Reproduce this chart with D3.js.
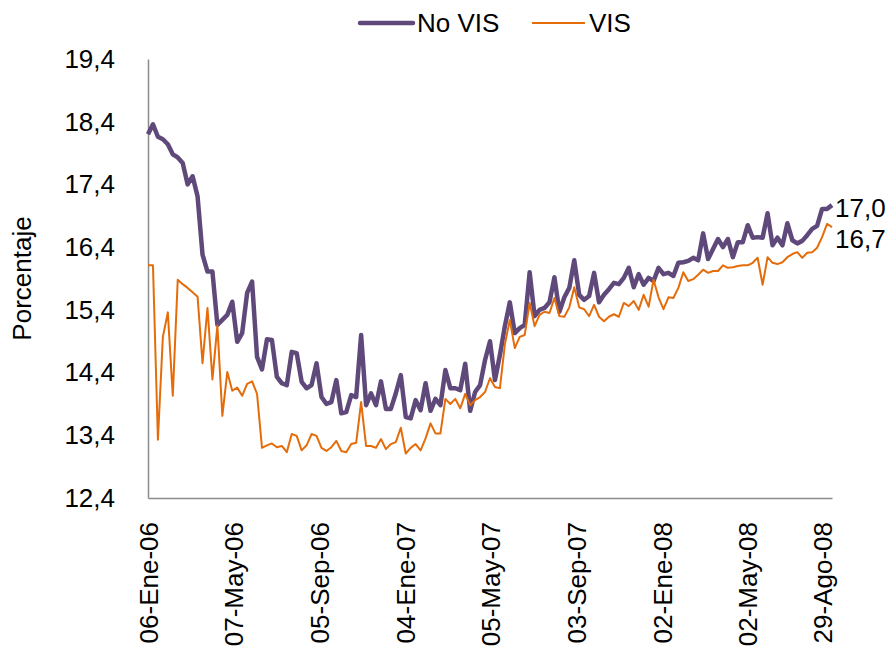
<!DOCTYPE html>
<html>
<head>
<meta charset="utf-8">
<script src="https://cdn.jsdelivr.net/npm/d3@7"></script>
<style>
  body { margin: 0; background: #fff; }
  text { font-family: "Liberation Sans", Arial, sans-serif; fill: #000; }
</style>
</head>
<body>
<div id="chart"></div>
<script>
// weekly series, first week 06-Ene-06, last 29-Ago-08
var startDate = new Date(2006, 0, 6);
var nWeeks = 139;

var noVis = [
  18.20, 18.36, 18.16, 18.12, 18.04, 17.88, 17.83, 17.74, 17.40, 17.53,
  17.21, 16.28, 16.01, 16.01, 15.16, 15.24, 15.32, 15.53, 14.89, 15.03,
  15.67, 15.85, 14.65, 14.45, 14.93, 14.92, 14.33, 14.23, 14.20, 14.73,
  14.71, 14.25, 14.15, 14.20, 14.55, 14.01, 13.90, 13.93, 14.28, 13.75,
  13.77, 14.04, 14.01, 15.00, 13.88, 14.07, 13.88, 14.26, 13.82, 13.82,
  14.07, 14.36, 13.69, 13.67, 13.96, 13.80, 14.23, 13.79, 13.98, 13.88,
  14.44, 14.15, 14.15, 14.12, 14.54, 13.79, 14.09, 14.20, 14.60, 14.90,
  14.28, 14.68, 15.14, 15.52, 15.03, 15.11, 15.16, 16.00, 15.30, 15.40,
  15.43, 15.52, 15.92, 15.37, 15.60, 15.75, 16.19, 15.64, 15.56, 15.62,
  15.99, 15.52, 15.64, 15.73, 15.83, 15.81, 15.91, 16.07, 15.76, 15.97,
  15.80, 15.91, 15.86, 16.07, 15.97, 15.99, 15.94, 16.15, 16.16, 16.18,
  16.23, 16.19, 16.62, 16.21, 16.37, 16.53, 16.40, 16.53, 16.24, 16.48,
  16.48, 16.75, 16.55, 16.56, 16.55, 16.94, 16.43, 16.55, 16.43, 16.78,
  16.51, 16.46, 16.50, 16.59, 16.69, 16.74, 17.01, 17.01, 17.07
];

var vis = [
  16.11, 16.11, 13.33, 14.97, 15.36, 14.03, 15.88, 15.81, 15.75, 15.68,
  15.61, 14.55, 15.43, 14.29, 15.15, 13.71, 14.41, 14.11, 14.16, 14.03,
  14.22, 14.26, 14.06, 13.20, 13.24, 13.27, 13.21, 13.23, 13.13, 13.42,
  13.39, 13.16, 13.24, 13.42, 13.39, 13.20, 13.15, 13.21, 13.31, 13.15,
  13.13, 13.26, 13.28, 13.93, 13.23, 13.23, 13.20, 13.34, 13.18, 13.26,
  13.29, 13.52, 13.11, 13.20, 13.26, 13.16, 13.35, 13.59, 13.43, 13.43,
  13.98, 13.90, 13.98, 13.83, 14.06, 13.88, 13.96, 14.01, 14.09, 14.31,
  14.17, 14.15, 14.85, 15.24, 14.79, 14.97, 15.00, 15.51, 15.14, 15.32,
  15.37, 15.35, 15.59, 15.30, 15.29, 15.44, 15.76, 15.44, 15.41, 15.30,
  15.48, 15.29, 15.22, 15.29, 15.33, 15.29, 15.51, 15.46, 15.54, 15.40,
  15.64, 15.45, 15.88, 15.60, 15.41, 15.60, 15.59, 15.75, 16.00, 15.86,
  15.89, 15.96, 16.04, 15.99, 16.02, 16.02, 16.11, 16.07, 16.08, 16.10,
  16.11, 16.11, 16.15, 16.23, 15.80, 16.24, 16.15, 16.13, 16.16, 16.24,
  16.29, 16.32, 16.23, 16.31, 16.32, 16.39, 16.56, 16.77, 16.72
];

var tickDates = [
  new Date(2006, 0, 6), new Date(2006, 4, 7), new Date(2006, 8, 5),
  new Date(2007, 0, 4), new Date(2007, 4, 5), new Date(2007, 8, 3),
  new Date(2008, 0, 2), new Date(2008, 4, 2), new Date(2008, 7, 29)
];
var tickLabels = [
  "06-Ene-06", "07-May-06", "05-Sep-06", "04-Ene-07", "05-May-07",
  "03-Sep-07", "02-Ene-08", "02-May-08", "29-Ago-08"
];
var yTicks = [12.4, 13.4, 14.4, 15.4, 16.4, 17.4, 18.4, 19.4];

var seriesNames = ["No VIS", "VIS"];
var endLabels = ["17,0", "16,7"];

var width = 887, height = 650;
var margin = { top: 59, right: 55, bottom: 152, left: 148 };

var dates = d3.range(nWeeks).map(function(i) { return d3.timeWeek.offset(startDate, i); });

var svg = d3.select('#chart').append('svg')
  .attr('width', width)
  .attr('height', height);

var x = d3.scaleTime()
  .domain([dates[0], dates[dates.length - 1]])
  .range([margin.left, width - margin.right]);

var y = d3.scaleLinear()
  .domain([12.4, 19.4])
  .range([height - margin.bottom, margin.top]);

var fmt = function(v) { return d3.format('.1f')(v).replace('.', ','); };

// y axis
var yAxis = svg.append('g')
  .attr('transform', 'translate(' + margin.left + ',0)')
  .call(d3.axisLeft(y).tickValues(yTicks).tickSize(0).tickPadding(33).tickFormat(fmt));
yAxis.select('.domain').attr('stroke', '#8c8c8c').attr('stroke-width', 1.5);
yAxis.selectAll('text')
  .style('font-size', '26px')
  .style('font-family', '"Liberation Sans", Arial, sans-serif')
  .attr('fill', '#000');

// x axis
var xAxis = svg.append('g')
  .attr('transform', 'translate(0,' + y(12.4) + ')')
  .call(d3.axisBottom(x).tickValues(tickDates).tickSize(0).tickFormat(function(d, i) { return tickLabels[i]; }));
xAxis.select('.domain').attr('stroke', '#8c8c8c').attr('stroke-width', 1.5);
xAxis.selectAll('text')
  .style('font-size', '26px')
  .style('font-family', '"Liberation Sans", Arial, sans-serif')
  .attr('fill', '#000')
  .attr('text-anchor', 'end')
  .attr('y', 0)
  .attr('dy', '0.35em')
  .attr('transform', function(d, i) {
    var shift = (i === tickDates.length - 1) ? -10 : 0;
    return 'translate(' + shift + ',24) rotate(-90)';
  });

// y title
svg.append('text')
  .attr('transform', 'translate(31,' + (y(15.9)) + ') rotate(-90)')
  .attr('text-anchor', 'middle')
  .style('font-size', '26px')
  .text('Porcentaje');

var colors = ['#5f497a', '#e46c0a'];
var widths = [4.5, 2];
var allSeries = [noVis, vis];

var line = d3.line()
  .x(function(d, i) { return x(dates[i]); })
  .y(function(d) { return y(d); });

allSeries.forEach(function(s, k) {
  svg.append('path')
    .datum(s)
    .attr('fill', 'none')
    .attr('stroke', colors[k])
    .attr('stroke-width', widths[k])
    .attr('stroke-linejoin', 'round')
    .attr('d', line);
});

// end value labels
var labelShift = [12, 21];
allSeries.forEach(function(s, k) {
  svg.append('text')
    .attr('x', x(dates[dates.length - 1]) + 3)
    .attr('y', y(s[s.length - 1]) + labelShift[k])
    .style('font-size', '26px')
    .text(endLabels[k]);
});

// legend
var legendX = [360, 532];
var legendY = 23;
seriesNames.forEach(function(name, k) {
  var g = svg.append('g').attr('transform', 'translate(' + legendX[k] + ',' + legendY + ')');
  g.append('line')
    .attr('x1', 0).attr('x2', 53)
    .attr('stroke', colors[k])
    .attr('stroke-width', widths[k])
    .attr('stroke-linecap', k === 0 ? 'round' : 'butt');
  g.append('text')
    .attr('x', 57)
    .attr('dy', '0.35em')
    .style('font-size', '26px')
    .text(name);
});
</script>
</body>
</html>
